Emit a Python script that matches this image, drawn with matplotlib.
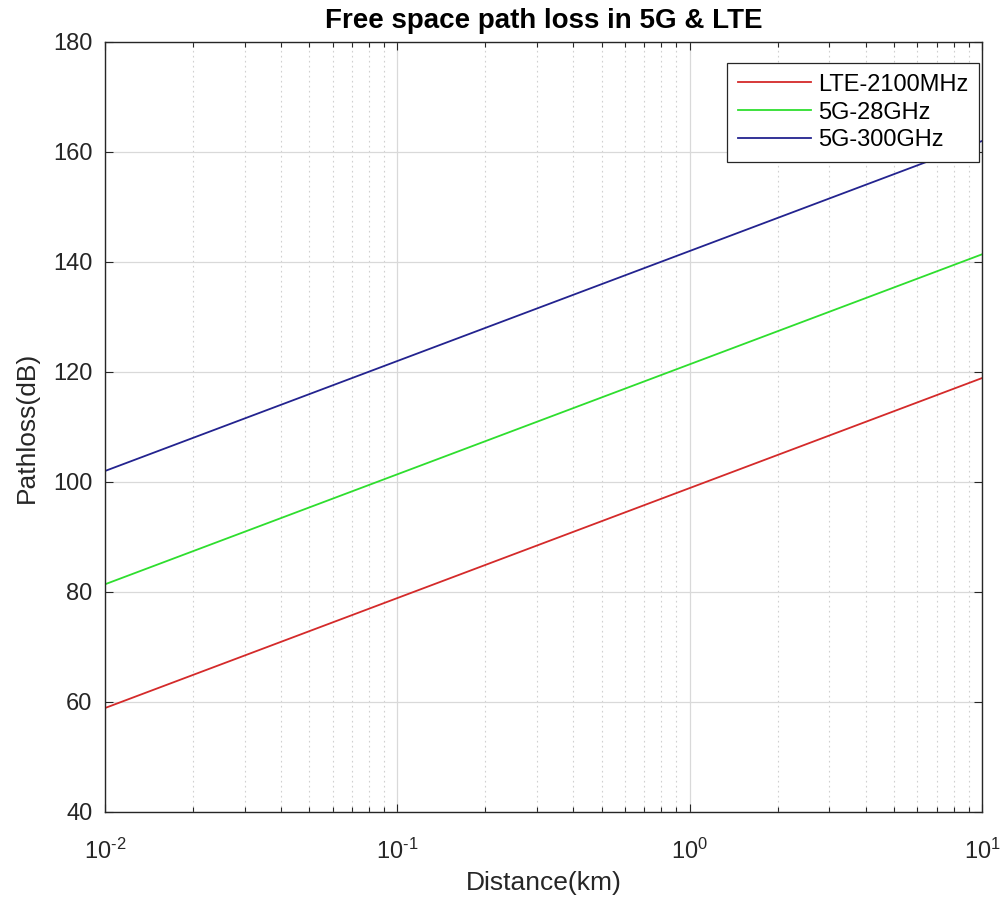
"""Free space path loss vs distance for LTE and 5G carriers."""
import matplotlib
matplotlib.use("Agg")
import matplotlib.pyplot as plt
from matplotlib.ticker import LogLocator, NullFormatter, FuncFormatter
import numpy as np

# distance samples (km) and the path loss read at each one (dB)
distance_km = [0.01, 0.1, 1.0, 10.0]
lte_2100mhz = [58.9, 78.9, 98.9, 118.9]
nr_28ghz = [81.4, 101.4, 121.4, 141.4]
nr_300ghz = [102.0, 122.0, 142.0, 162.0]

series_labels = ["LTE-2100MHz", "5G-28GHz", "5G-300GHz"]
series_colors = ["#d42a2a", "#2ede2e", "#23238f"]

plt.rcParams.update({
    "font.family": ["Liberation Sans", "DejaVu Sans"],
    "mathtext.fontset": "custom",
    "mathtext.rm": "Liberation Sans",
    "mathtext.default": "regular",
    "xtick.direction": "in",
    "ytick.direction": "in",
    "xtick.top": True,
    "ytick.right": True,
})


def pow10_label(x, pos):
    e = int(round(np.log10(x)))
    # plain hyphen in the exponent, not a math minus
    return "$10^{%s}$" % str(e).replace("-", "\u2010")


fig = plt.figure(figsize=(10.07, 9.01), dpi=100)
ax = fig.add_axes([0.1043, 0.0988, 0.871, 0.8546])

for ys, lab, col in zip([lte_2100mhz, nr_28ghz, nr_300ghz], series_labels, series_colors):
    ax.plot(distance_km, ys, color=col, linewidth=1.3, label=lab)

ax.set_xscale("log")
ax.set_xlim(0.01, 10)
ax.set_ylim(40, 180)
ax.set_yticks(range(40, 181, 20))
ax.xaxis.set_major_locator(LogLocator(base=10))
ax.xaxis.set_minor_locator(LogLocator(base=10, subs=range(2, 10)))
ax.xaxis.set_major_formatter(FuncFormatter(pow10_label))
ax.xaxis.set_minor_formatter(NullFormatter())

ax.grid(True, which="major", color="#d9d9d9", linewidth=0.9, linestyle="-")
ax.grid(True, which="minor", axis="x", color="#d0d0d0", linewidth=0.8, linestyle=(0, (1.5, 3)))
ax.set_axisbelow(True)

for sp in ax.spines.values():
    sp.set_color("#262626")
    sp.set_linewidth(1.0)
ax.tick_params(which="major", length=6, width=0.8, colors="#262626", labelsize=17,
               labelcolor="#262626")
ax.tick_params(which="minor", length=3.5, width=0.8, colors="#262626")
ax.tick_params(axis="x", which="major", pad=19)
ax.tick_params(axis="y", which="major", pad=9)

ax.set_title("Free space path loss in 5G & LTE", fontsize=20, fontweight="bold", pad=10)
ax.set_xlabel("Distance(km)", fontsize=19, color="#262626")
ax.xaxis.set_label_coords(0.5, -0.077)
ax.set_ylabel("Pathloss(dB)", fontsize=19, color="#262626", labelpad=10)

leg = ax.legend(loc="upper right", bbox_to_anchor=(0.9966, 0.9727), borderaxespad=0,
                fontsize=17, frameon=True, fancybox=False,
                handlelength=3.1, handletextpad=0.3,
                labelspacing=0.25, borderpad=0.45)
leg.get_frame().set_edgecolor("#262626")
leg.get_frame().set_linewidth(0.9)
leg.get_frame().set_alpha(1.0)

fig.savefig("out.png", dpi=100)
